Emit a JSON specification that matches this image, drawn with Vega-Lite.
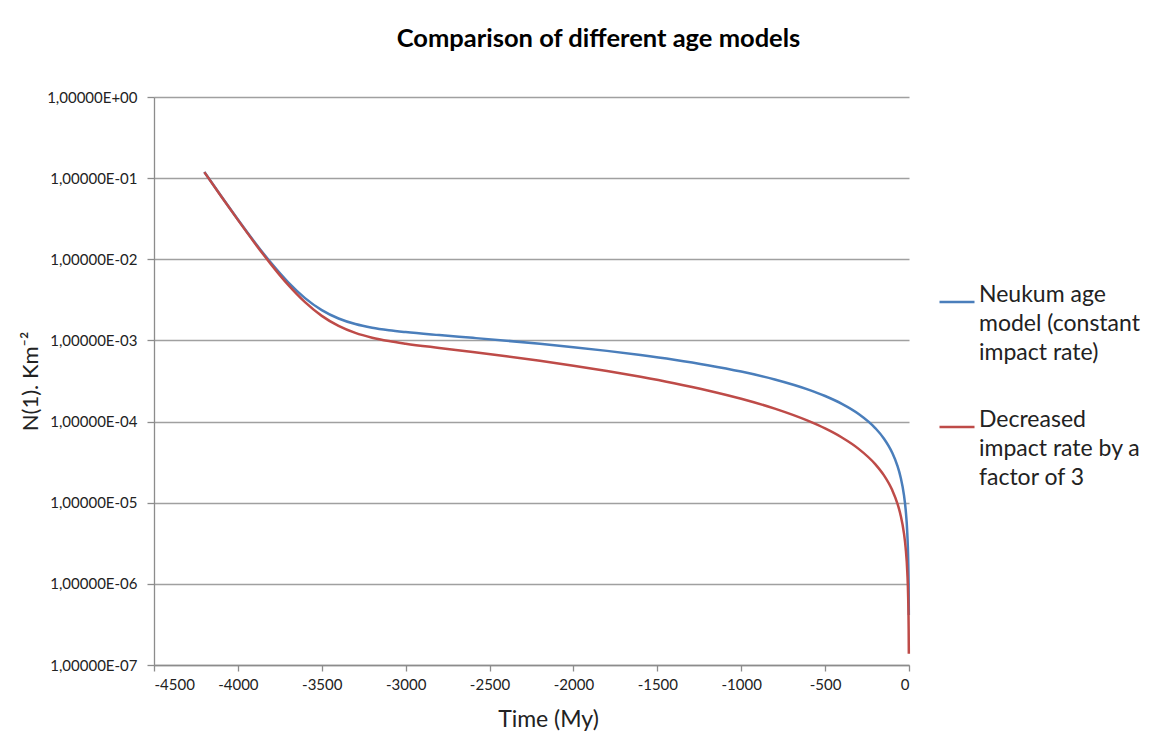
{
  "$schema": "https://vega.github.io/schema/vega-lite/v6.json",
  "autosize": {"type": "none"},
  "padding": {"left": 154, "top": 97, "right": 242, "bottom": 78},
  "width": 755,
  "height": 568,
  "background": "white",
  "title": {
    "text": "Comparison of different age models",
    "font": "Lato",
    "fontSize": 25.5,
    "fontWeight": "bold",
    "color": "#000000",
    "anchor": "middle",
    "dx": 67,
    "baseline": "alphabetic",
    "offset": 18
  },
  "data": {
    "values": [
      {"t": -4200, "n": 0.11888, "s": "Neukum age model (constant impact rate)"},
      {"t": -4100, "n": 0.06026, "s": "Neukum age model (constant impact rate)"},
      {"t": -4000, "n": 0.03094, "s": "Neukum age model (constant impact rate)"},
      {"t": -3900, "n": 0.016259, "s": "Neukum age model (constant impact rate)"},
      {"t": -3800, "n": 0.008894, "s": "Neukum age model (constant impact rate)"},
      {"t": -3700, "n": 0.005191, "s": "Neukum age model (constant impact rate)"},
      {"t": -3600, "n": 0.003319, "s": "Neukum age model (constant impact rate)"},
      {"t": -3500, "n": 0.002362, "s": "Neukum age model (constant impact rate)"},
      {"t": -3400, "n": 0.001862, "s": "Neukum age model (constant impact rate)"},
      {"t": -3300, "n": 0.001592, "s": "Neukum age model (constant impact rate)"},
      {"t": -3200, "n": 0.001436, "s": "Neukum age model (constant impact rate)"},
      {"t": -3100, "n": 0.0013376, "s": "Neukum age model (constant impact rate)"},
      {"t": -3000, "n": 0.0012677, "s": "Neukum age model (constant impact rate)"},
      {"t": -2800, "n": 0.0011636, "s": "Neukum age model (constant impact rate)"},
      {"t": -2600, "n": 0.0010756, "s": "Neukum age model (constant impact rate)"},
      {"t": -2400, "n": 0.0009917, "s": "Neukum age model (constant impact rate)"},
      {"t": -2200, "n": 0.0009087, "s": "Neukum age model (constant impact rate)"},
      {"t": -2000, "n": 0.000826, "s": "Neukum age model (constant impact rate)"},
      {"t": -1800, "n": 0.0007434, "s": "Neukum age model (constant impact rate)"},
      {"t": -1600, "n": 0.0006608, "s": "Neukum age model (constant impact rate)"},
      {"t": -1400, "n": 0.0005782, "s": "Neukum age model (constant impact rate)"},
      {"t": -1200, "n": 0.0004956, "s": "Neukum age model (constant impact rate)"},
      {"t": -1000, "n": 0.000413, "s": "Neukum age model (constant impact rate)"},
      {"t": -800, "n": 0.0003304, "s": "Neukum age model (constant impact rate)"},
      {"t": -600, "n": 0.0002478, "s": "Neukum age model (constant impact rate)"},
      {"t": -500, "n": 0.0002065, "s": "Neukum age model (constant impact rate)"},
      {"t": -400, "n": 0.0001652, "s": "Neukum age model (constant impact rate)"},
      {"t": -300, "n": 0.0001239, "s": "Neukum age model (constant impact rate)"},
      {"t": -200, "n": 0.0000826, "s": "Neukum age model (constant impact rate)"},
      {"t": -150, "n": 0.00006195, "s": "Neukum age model (constant impact rate)"},
      {"t": -100, "n": 0.0000413, "s": "Neukum age model (constant impact rate)"},
      {"t": -70, "n": 0.00002891, "s": "Neukum age model (constant impact rate)"},
      {"t": -50, "n": 0.00002065, "s": "Neukum age model (constant impact rate)"},
      {"t": -30, "n": 0.00001239, "s": "Neukum age model (constant impact rate)"},
      {"t": -20, "n": 0.00000826, "s": "Neukum age model (constant impact rate)"},
      {"t": -10, "n": 0.00000413, "s": "Neukum age model (constant impact rate)"},
      {"t": -5, "n": 0.000002065, "s": "Neukum age model (constant impact rate)"},
      {"t": -2, "n": 0.000000826, "s": "Neukum age model (constant impact rate)"},
      {"t": -1, "n": 0.000000413, "s": "Neukum age model (constant impact rate)"},
      {"t": -4200, "n": 0.118525, "s": "Decreased impact rate by a factor of 3"},
      {"t": -4100, "n": 0.059905, "s": "Decreased impact rate by a factor of 3"},
      {"t": -4000, "n": 0.030585, "s": "Decreased impact rate by a factor of 3"},
      {"t": -3900, "n": 0.015904, "s": "Decreased impact rate by a factor of 3"},
      {"t": -3800, "n": 0.008539, "s": "Decreased impact rate by a factor of 3"},
      {"t": -3700, "n": 0.004836, "s": "Decreased impact rate by a factor of 3"},
      {"t": -3600, "n": 0.002964, "s": "Decreased impact rate by a factor of 3"},
      {"t": -3500, "n": 0.002007, "s": "Decreased impact rate by a factor of 3"},
      {"t": -3400, "n": 0.001507, "s": "Decreased impact rate by a factor of 3"},
      {"t": -3300, "n": 0.001237, "s": "Decreased impact rate by a factor of 3"},
      {"t": -3200, "n": 0.001081, "s": "Decreased impact rate by a factor of 3"},
      {"t": -3100, "n": 0.0009824, "s": "Decreased impact rate by a factor of 3"},
      {"t": -3000, "n": 0.0009125, "s": "Decreased impact rate by a factor of 3"},
      {"t": -2800, "n": 0.0008084, "s": "Decreased impact rate by a factor of 3"},
      {"t": -2600, "n": 0.0007204, "s": "Decreased impact rate by a factor of 3"},
      {"t": -2400, "n": 0.000638, "s": "Decreased impact rate by a factor of 3"},
      {"t": -2200, "n": 0.0005611, "s": "Decreased impact rate by a factor of 3"},
      {"t": -2000, "n": 0.0004888, "s": "Decreased impact rate by a factor of 3"},
      {"t": -1800, "n": 0.0004207, "s": "Decreased impact rate by a factor of 3"},
      {"t": -1600, "n": 0.0003569, "s": "Decreased impact rate by a factor of 3"},
      {"t": -1400, "n": 0.0002973, "s": "Decreased impact rate by a factor of 3"},
      {"t": -1200, "n": 0.000242, "s": "Decreased impact rate by a factor of 3"},
      {"t": -1000, "n": 0.000191, "s": "Decreased impact rate by a factor of 3"},
      {"t": -800, "n": 0.0001443, "s": "Decreased impact rate by a factor of 3"},
      {"t": -600, "n": 0.0001018, "s": "Decreased impact rate by a factor of 3"},
      {"t": -500, "n": 0.00008217, "s": "Decreased impact rate by a factor of 3"},
      {"t": -400, "n": 0.00006361, "s": "Decreased impact rate by a factor of 3"},
      {"t": -300, "n": 0.0000461, "s": "Decreased impact rate by a factor of 3"},
      {"t": -200, "n": 0.00002967, "s": "Decreased impact rate by a factor of 3"},
      {"t": -150, "n": 0.00002185, "s": "Decreased impact rate by a factor of 3"},
      {"t": -100, "n": 0.0000143, "s": "Decreased impact rate by a factor of 3"},
      {"t": -70, "n": 0.0000099, "s": "Decreased impact rate by a factor of 3"},
      {"t": -50, "n": 0.00000702, "s": "Decreased impact rate by a factor of 3"},
      {"t": -30, "n": 0.00000418, "s": "Decreased impact rate by a factor of 3"},
      {"t": -20, "n": 0.000002775, "s": "Decreased impact rate by a factor of 3"},
      {"t": -10, "n": 0.000001377, "s": "Decreased impact rate by a factor of 3"},
      {"t": -5, "n": 0.000000688, "s": "Decreased impact rate by a factor of 3"},
      {"t": -2, "n": 0.000000275, "s": "Decreased impact rate by a factor of 3"},
      {"t": -1, "n": 0.000000138, "s": "Decreased impact rate by a factor of 3"}
    ]
  },
  "mark": {"type": "line", "strokeWidth": 2.5, "interpolate": "monotone"},
  "encoding": {
    "x": {
      "field": "t",
      "type": "quantitative",
      "scale": {"domain": [-4500, 0], "nice": false, "zero": false},
      "axis": {
        "title": "Time (My)",
        "values": [-4500, -4000, -3500, -3000, -2500, -2000, -1500, -1000, -500, 0],
        "labelExpr": "toString(datum.value)",
        "grid": false,
        "domainColor": "#8c8c8c",
        "domainWidth": 1.3,
        "tickColor": "#8c8c8c",
        "tickWidth": 1.3,
        "tickSize": 6,
        "labelFont": "Lato",
        "labelFontSize": 15,
        "labelColor": "#222222",
        "labelPadding": 6,
        "titleFont": "Lato",
        "titleFontSize": 23,
        "titleFontWeight": "normal",
        "titleColor": "#222222",
        "titlePadding": 16,
        "titleX": 394
      }
    },
    "y": {
      "field": "n",
      "type": "quantitative",
      "scale": {"type": "log", "domain": [0.0000001, 1], "nice": false},
      "axis": {
        "title": "N(1). Km⁻²",
        "values": [0.0000001, 0.000001, 0.00001, 0.0001, 0.001, 0.01, 0.1, 1],
        "labelExpr": "'1,00000E' + (datum.value < 0.999 ? '-' : '+') + '0' + abs(round(log(datum.value) / LN10))",
        "grid": true,
        "gridColor": "#a0a0a0",
        "gridWidth": 1.3,
        "domainColor": "#8c8c8c",
        "domainWidth": 1.3,
        "tickColor": "#8c8c8c",
        "tickWidth": 1.3,
        "tickSize": 7,
        "labelFont": "Lato",
        "labelFontSize": 15,
        "labelColor": "#222222",
        "labelPadding": 10,
        "titleFont": "Lato",
        "titleFontSize": 22,
        "titleFontWeight": "normal",
        "titleColor": "#222222",
        "titlePadding": 4
      }
    },
    "color": {
      "field": "s",
      "type": "nominal",
      "scale": {
        "domain": ["Neukum age model (constant impact rate)", "Decreased impact rate by a factor of 3"],
        "range": ["#4a7ebb", "#be4b48"]
      },
      "legend": {
        "orient": "none",
        "legendX": 784,
        "legendY": 186,
        "title": null,
        "symbolType": "stroke",
        "symbolSize": 1225,
        "symbolStrokeWidth": 2.5,
        "labelFont": "Lato",
        "labelFontSize": 23,
        "labelColor": "#222222",
        "labelLimit": 400,
        "labelBaseline": "alphabetic",
        "labelOffset": 3,
        "rowPadding": 43,
        "padding": 0,
        "labelExpr": "datum.label == 'Neukum age model (constant impact rate)' ? ['Neukum age', 'model (constant', 'impact rate)'] : ['Decreased', 'impact rate by a', 'factor of 3']"
      }
    }
  },
  "config": {
    "view": {"stroke": null},
    "font": "Lato",
    "style": {"guide-label": {"lineHeight": 29}}
  }
}
